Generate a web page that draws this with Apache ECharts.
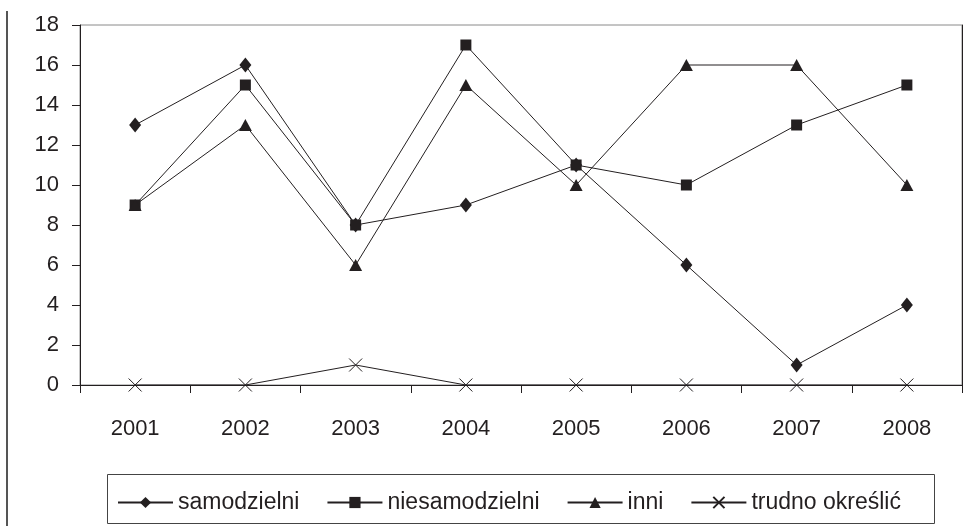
<!DOCTYPE html>
<html><head><meta charset="utf-8">
<script src="https://cdn.jsdelivr.net/npm/echarts@6/dist/echarts.min.js"></script>
<style>html,body{margin:0;padding:0;background:#fff}#c{width:972px;height:526px}</style>
</head><body><div id="c"></div>
<script>
const years = ['2001','2002','2003','2004','2005','2006','2007','2008'];
const samodzielni = [13, 16, 8, 9, 11, 6, 1, 4];
const niesamodzielni = [9, 15, 8, 17, 11, 10, 13, 15];
const inni = [9, 13, 6, 15, 10, 16, 16, 10];
const trudno = [0, 0, 1, 0, 0, 0, 0, 0];
const names = ['samodzielni', 'niesamodzielni', 'inni', 'trudno określić'];

const ink = '#231f20';
const font = 'Liberation Sans, Arial, sans-serif';
function mk(name, data, symbol, size, extra) {
  return Object.assign({
    name: name, type: 'line', data: data, symbol: symbol, symbolSize: size,
    lineStyle: {color: ink, width: 1}, itemStyle: {color: ink},
    showAllSymbol: true, animation: false
  }, extra || {});
}
const chart = echarts.init(document.getElementById('c'));
chart.setOption({
  animation: false,
  grid: {left: 80, right: 10, top: 25, bottom: 141, show: true, borderColor: '#8a8a8a', borderWidth: 1},
  graphic: [
    {type: 'line', shape: {x1: 7, y1: 11, x2: 7, y2: 526}, style: {stroke: '#555', lineWidth: 2}},
    {type: 'rect', shape: {x: 107.5, y: 474.5, width: 827, height: 49}, style: {fill: 'none', stroke: '#444', lineWidth: 1}}
  ],
  legend: {
    left: 112, top: 486, itemWidth: 55, itemHeight: 14, itemGap: 27,
    textStyle: {fontFamily: font, fontSize: 23, color: ink},
    data: names
  },
  xAxis: {
    type: 'category', data: years, boundaryGap: true,
    axisLine: {lineStyle: {color: ink, width: 1}},
    axisTick: {show: true, length: 8, lineStyle: {color: ink}},
    axisLabel: {fontFamily: font, fontSize: 22, color: ink, margin: 33}
  },
  yAxis: [{
    type: 'value', min: 0, max: 18, interval: 2,
    axisLine: {show: true, lineStyle: {color: ink, width: 1}},
    axisTick: {show: true, length: 8, lineStyle: {color: ink}},
    splitLine: {show: false},
    axisLabel: {fontFamily: font, fontSize: 22, color: ink, margin: 21}
  }, {
    type: 'value', min: 0, max: 18, interval: 2, position: 'right',
    axisLine: {show: true, lineStyle: {color: ink, width: 1}},
    axisTick: {show: false}, axisLabel: {show: false}, splitLine: {show: false}
  }],
  series: [
    mk(names[0], samodzielni, 'diamond', [12, 15]),
    mk(names[1], niesamodzielni, 'rect', 11),
    mk(names[2], inni, 'triangle', [13, 12]),
    mk(names[3], trudno, 'path://M0,0L10,10M10,0L0,10', 13, {
      itemStyle: {color: 'none', borderColor: ink, borderWidth: 1}
    })
  ]
});
</script></body></html>
